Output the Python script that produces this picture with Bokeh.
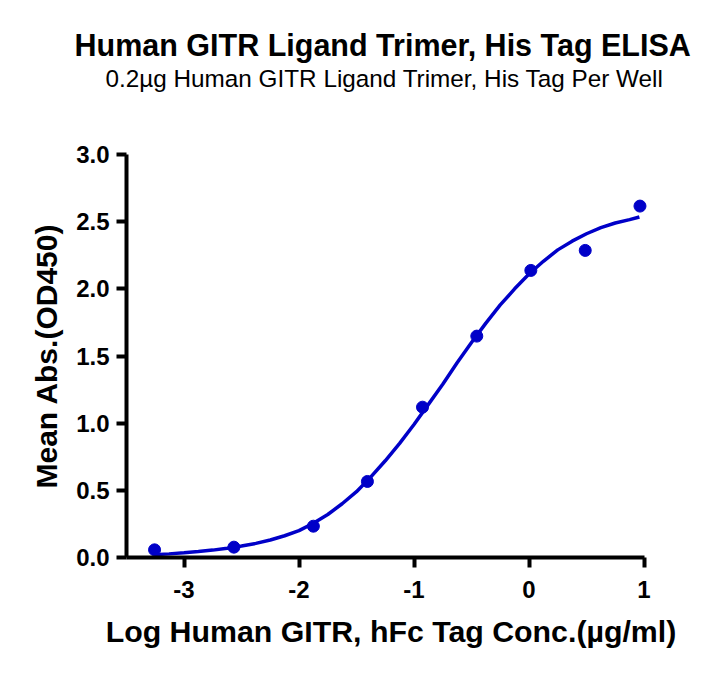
from bokeh.plotting import figure
from bokeh.models import Range1d, FixedTicker, NumeralTickFormatter, Title
from bokeh.embed import file_html
from bokeh.resources import INLINE

# ---- data ----
log_conc = [-3.256, -2.566, -1.875, -1.405, -0.926, -0.454, 0.016, 0.489, 0.965]
mean_abs = [0.057, 0.077, 0.233, 0.566, 1.119, 1.648, 2.137, 2.286, 2.616]

# fitted curve
curve_x = [-3.26, -3.13, -3.0, -2.875, -2.75, -2.625, -2.5, -2.375, -2.25, -2.125,
           -2.0, -1.875, -1.75, -1.625, -1.5, -1.375, -1.25, -1.125, -1.0, -0.875,
           -0.75, -0.625, -0.5, -0.375, -0.25, -0.125, 0.0, 0.125, 0.25, 0.375,
           0.5, 0.625, 0.75, 0.875, 0.96]
curve_y = [0.02, 0.027, 0.035, 0.044, 0.055, 0.069, 0.085, 0.105, 0.13, 0.162,
           0.20, 0.255, 0.32, 0.40, 0.49, 0.60, 0.72, 0.85, 0.99, 1.14,
           1.29, 1.45, 1.60, 1.745, 1.88, 2.00, 2.11, 2.205, 2.29, 2.355,
           2.41, 2.455, 2.49, 2.515, 2.535]

x_ticks = [-3, -2, -1, 0, 1]
y_ticks = [0.0, 0.5, 1.0, 1.5, 2.0, 2.5, 3.0]

title_text = "Human GITR Ligand Trimer, His Tag ELISA"
subtitle_text = "0.2µg Human GITR Ligand Trimer, His Tag Per Well"
x_label = "Log Human GITR, hFc Tag Conc.(µg/ml)"
y_label = "Mean Abs.(OD450)"

BLUE = "#0000C8"
FONT = "Liberation Sans"

p = figure(width=712, height=666, output_backend="svg", toolbar_location=None,
           x_range=Range1d(-3.5, 1.1), y_range=Range1d(0, 3.0),
           min_border_left=126, min_border_right=57, min_border_top=154, min_border_bottom=109)
p.title = None
p.outline_line_color = None
p.xgrid.visible = False
p.ygrid.visible = False
p.background_fill_color = "white"
p.border_fill_color = "white"

p.line(curve_x, curve_y, line_color=BLUE, line_width=3.5)
p.scatter(log_conc, mean_abs, size=12, marker="circle", fill_color=BLUE, line_color=BLUE)

for ax in (p.xaxis[0], p.yaxis[0]):
    ax.axis_line_width = 4
    ax.axis_line_color = "black"
    ax.major_tick_line_width = 4
    ax.major_tick_out = 10
    ax.major_tick_in = 0
    ax.minor_tick_line_color = None
    ax.major_label_text_font = FONT
    ax.major_label_text_font_style = "bold"
    ax.major_label_text_font_size = "24px"
    ax.major_label_text_color = "black"
    ax.axis_label_text_font = FONT
    ax.axis_label_text_font_style = "bold"
    ax.axis_label_text_font_size = "30px"
    ax.axis_label_text_color = "black"

xa = p.xaxis[0]
xa.ticker = FixedTicker(ticks=x_ticks)
xa.formatter = NumeralTickFormatter(format="0")
xa.bounds = (-3.5, 1.0)
xa.major_label_standoff = 13
xa.axis_label = x_label
xa.axis_label_text_font_size = "30.3px"
xa.axis_label_standoff = 14

ya = p.yaxis[0]
ya.ticker = FixedTicker(ticks=y_ticks)
ya.formatter = NumeralTickFormatter(format="0.0")
ya.major_label_standoff = 7
ya.axis_label = y_label
ya.axis_label_standoff = 10

# empty gap between the frame and the subtitle
p.add_layout(Title(text=" ", text_font_size="1px", standoff=60), "above")
p.add_layout(Title(text=subtitle_text, align="left", offset=-21,
                   text_font=FONT, text_font_style="normal",
                   text_font_size="24.3px", text_color="black", standoff=0), "above")
p.add_layout(Title(text=title_text, align="left", offset=-52,
                   text_font=FONT, text_font_style="bold",
                   text_font_size="30.5px", text_color="black", standoff=2), "above")

open("out.html", "w").write(file_html(p, INLINE))
